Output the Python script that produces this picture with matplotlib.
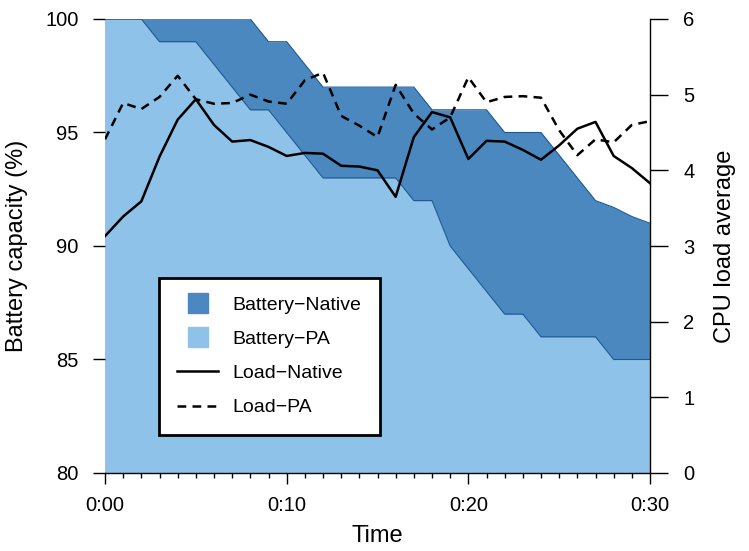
import matplotlib
matplotlib.use("Agg")
import matplotlib.pyplot as plt
from matplotlib.lines import Line2D
from matplotlib.ticker import MultipleLocator

plt.rcParams['font.family'] = ['Liberation Sans', 'DejaVu Sans']

# time in minutes
minutes = list(range(31))
tick_labels = ["0:00", "0:10", "0:20", "0:30"]

# battery capacity (%)
batt_native = [100, 100, 100, 100, 100, 100, 100, 100, 100, 99, 99, 98, 97, 97, 97, 97,
               97, 97, 96, 96, 96, 96, 95, 95, 95, 94, 93, 92, 91.7, 91.3, 91]
batt_pa = [100, 100, 100, 99, 99, 99, 98, 97, 96, 96, 95, 94, 93, 93, 93, 93,
           93, 92, 92, 90, 89, 88, 87, 87, 86, 86, 86, 86, 85, 85, 85]

# cpu load average
load_native = [3.13, 3.39, 3.59, 4.18, 4.67, 4.94, 4.60, 4.38, 4.40, 4.31, 4.19, 4.23,
               4.22, 4.06, 4.05, 4.00, 3.65, 4.44, 4.77, 4.70, 4.15, 4.39, 4.38, 4.27,
               4.14, 4.33, 4.55, 4.64, 4.19, 4.03, 3.83]
load_pa = [4.41, 4.89, 4.81, 4.97, 5.25, 4.94, 4.88, 4.89, 5.00, 4.91, 4.88, 5.19,
           5.29, 4.72, 4.59, 4.44, 5.13, 4.75, 4.54, 4.70, 5.23, 4.90, 4.97, 4.98,
           4.96, 4.53, 4.20, 4.41, 4.37, 4.60, 4.65]

dark = "#4a88bf"
light = "#8ec2e8"
edge = "#1d5a92"

fig = plt.figure(figsize=(7.49, 5.51), dpi=100)
ax = fig.add_axes([105/749, 78/551, 545/749, 454/551])

ax.fill_between(minutes, 80, batt_native, color=dark, lw=0)
ax.plot(minutes, batt_native, color=edge, lw=0.8)
ax.fill_between(minutes, 80, batt_pa, color=light, lw=0)
ax.plot(minutes, batt_pa, color=edge, lw=0.8)

ax.set_xlim(0, 30)
ax.set_ylim(80, 100)
ax.set_xticks([0, 10, 20, 30])
ax.set_xticklabels(tick_labels)
ax.xaxis.set_minor_locator(MultipleLocator(1))
ax.set_yticks([80, 85, 90, 95, 100])
ax.tick_params(axis='y', direction='out', length=8.6, width=1, pad=10.5, labelsize=14.5)
ax.tick_params(axis='x', which='major', direction='out', length=8, width=1, pad=8.5, labelsize=14.5)
ax.tick_params(axis='x', which='minor', direction='out', length=3.6, width=1)
for s in ['left', 'top', 'right']:
    ax.spines[s].set_visible(False)
ax.spines['bottom'].set_linewidth(1)
ax.set_xlabel("Time", fontsize=17, labelpad=7)
ax.set_ylabel("Battery capacity (%)", fontsize=17, labelpad=12)

ax2 = ax.twinx()
ax2.plot(minutes, load_native, color='black', lw=1.8)
ax2.plot(minutes, load_pa, color='black', lw=1.8, dashes=(3.5, 2.5))
ax2.set_ylim(0, 6)
ax2.set_yticks(range(7))
ax2.tick_params(axis='y', direction='out', length=13, width=1, pad=11, labelsize=14.5)
for s in ['left', 'top', 'bottom']:
    ax2.spines[s].set_visible(False)
ax2.spines['right'].set_linewidth(1)
ax2.set_ylabel("CPU load average", fontsize=17, labelpad=14)

handles = [
    Line2D([], [], marker='s', ls='none', markersize=14, color=dark),
    Line2D([], [], marker='s', ls='none', markersize=14, color=light),
    Line2D([], [], color='black', lw=1.8),
    Line2D([], [], color='black', lw=1.8, dashes=(3.5, 2.5)),
]
labels = ["Battery\u2212Native", "Battery\u2212PA", "Load\u2212Native", "Load\u2212PA"]
leg = ax2.legend(handles, labels, loc='lower left', bbox_to_anchor=(0.099, 0.084),
                 borderaxespad=0, fontsize=14, frameon=True, fancybox=False,
                 framealpha=1, edgecolor='black', borderpad=0.95, labelspacing=0.85,
                 handlelength=2.1, handletextpad=0.75)
leg.get_frame().set_linewidth(2)

fig.savefig("out.png", dpi=100)
